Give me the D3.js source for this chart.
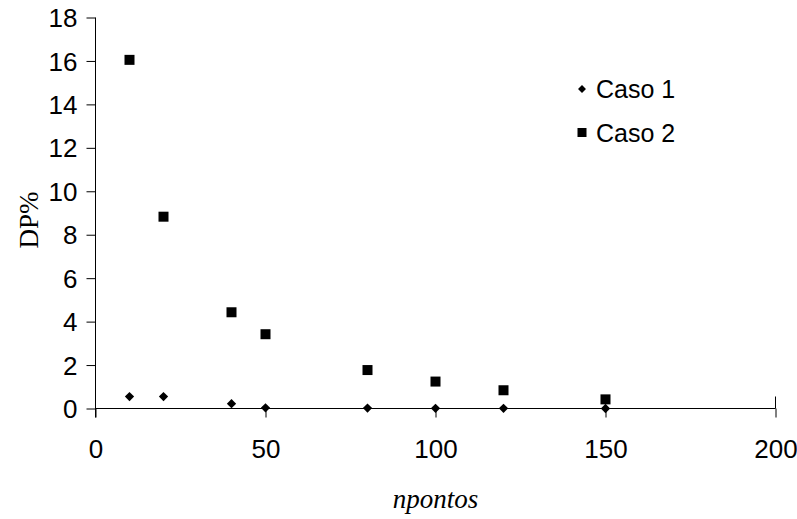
<!DOCTYPE html>
<html><head><meta charset="utf-8">
<script src="https://cdn.jsdelivr.net/npm/d3@7"></script>
<style>body{margin:0;background:#fff}svg{display:block}</style>
</head><body>
<svg id="c" width="797" height="519"></svg>
<script>
const npontos = [10, 20, 40, 50, 80, 100, 120, 150];
const caso1 = [0.55, 0.55, 0.22, 0.03, 0.02, 0.01, 0.01, 0.0];
const caso2 = [16.05, 8.83, 4.43, 3.42, 1.77, 1.24, 0.84, 0.42];
const xTicks = [0, 50, 100, 150, 200];
const yTicks = [0, 2, 4, 6, 8, 10, 12, 14, 16, 18];
const seriesNames = ["Caso 1", "Caso 2"];

const svg = d3.select("#c");
const x = d3.scaleLinear().domain([0, 200]).range([95.5, 775.5]);
const y = d3.scaleLinear().domain([0, 18]).range([408.5, 17.5]);
const tickFont = "'Liberation Sans', Arial, sans-serif";
const serif = "'Liberation Serif', 'Times New Roman', serif";

// y axis
const gy = svg.append("g").attr("transform", `translate(${x(0)},0)`)
  .call(d3.axisLeft(y).tickValues(yTicks).tickSize(9).tickPadding(10).tickSizeOuter(0));
gy.attr("font-size", 26).attr("font-family", tickFont);
gy.select(".domain").remove();
gy.append("line").attr("x1", 0).attr("x2", 0).attr("y1", y(18)).attr("y2", y(0) + 9).attr("stroke", "#000");
gy.selectAll(".tick text").attr("fill", "#000").attr("x", -18).attr("dy", "0.35em");

// x axis
const gx = svg.append("g").attr("transform", `translate(0,${y(0)})`)
  .call(d3.axisBottom(x).tickValues(xTicks).tickSize(9).tickPadding(14).tickSizeOuter(0));
gx.attr("font-size", 26).attr("font-family", tickFont);
gx.select(".domain").remove();
gx.append("line").attr("x1", x(0)).attr("x2", x(200)).attr("y1", 0).attr("y2", 0).attr("stroke", "#000");
gx.append("line").attr("x1", x(200)).attr("x2", x(200)).attr("y1", -12).attr("y2", 0).attr("stroke", "#000");
gx.selectAll(".tick text").attr("fill", "#000").attr("y", 31);

// titles
svg.append("text").attr("x", x(100)).attr("y", 508).attr("text-anchor", "middle")
  .attr("font-family", serif).attr("font-style", "italic")
  .attr("font-size", 27).text("npontos");
svg.append("text").attr("transform", "translate(38,220) rotate(-90)").attr("text-anchor", "middle")
  .attr("font-family", serif)
  .attr("font-size", 27).text("DP%");

// markers
const diamond = d3.symbol().type(d3.symbolDiamond2).size(55);
const data1 = npontos.map((n, i) => ({n, v: caso1[i]}));
const data2 = npontos.map((n, i) => ({n, v: caso2[i]}));

svg.append("g").selectAll("path").data(data1).join("path")
  .attr("d", diamond).attr("transform", d => `translate(${x(d.n)},${y(d.v)})`).attr("fill", "#000");
svg.append("g").selectAll("rect").data(data2).join("rect")
  .attr("x", d => x(d.n) - 5).attr("y", d => y(d.v) - 5).attr("width", 10).attr("height", 10).attr("fill", "#000");

// legend
const lg = svg.append("g");
lg.append("path").attr("d", d3.symbol().type(d3.symbolDiamond2).size(40)).attr("transform", "translate(582,89)");
lg.append("rect").attr("x", 577.5).attr("y", 128).attr("width", 9).attr("height", 9);
lg.selectAll("text").data(seriesNames).join("text")
  .attr("x", 596).attr("y", (d, i) => 98 + i * 44)
  .attr("font-size", 25).attr("font-family", tickFont).text(d => d);
</script>
</body></html>
